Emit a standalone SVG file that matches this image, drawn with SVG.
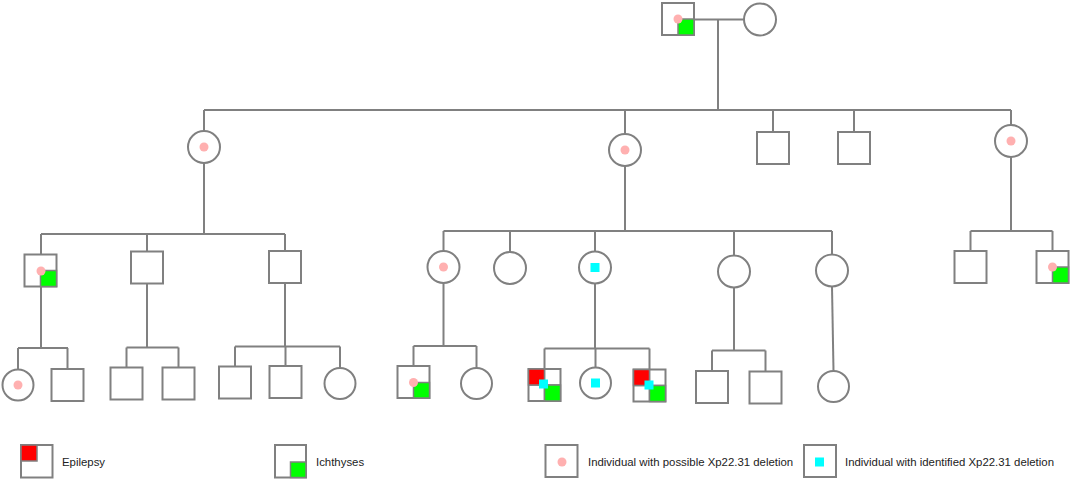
<svg xmlns="http://www.w3.org/2000/svg" width="1072" height="480" viewBox="0 0 1072 480">
<style>
.s{fill:#fff;stroke:#808080;stroke-width:2}
.l{fill:none;stroke:#808080;stroke-width:2}
.q{fill:none;stroke:#808080;stroke-width:1.5}
.g{fill:#00ff00;stroke:#808080;stroke-width:1.5}
.r{fill:#ff0000;stroke:#808080;stroke-width:1.5}
.p{fill:#ffb0b0}
.c{fill:#00ffff}
.t{font-family:"Liberation Sans",Arial,sans-serif;font-size:11.4px;fill:#222}
</style>
<rect width="1072" height="480" fill="#fff"/>
<g id="connectors" class="l">
<path d="M694,19.5H744M718,19.5V110M204,110H1011"/>
<path d="M204,110V131M625,110V134M773,110V132M854,110V132M1011,110V125"/>
<path d="M204,163V234M41,234H285M41,234V254.5M147,234V251.5M285,234V251"/>
<path d="M41,286.5V348M18,348H68M18,348V369.5M67.5,348V369"/>
<path d="M147,283.5V347.5M126.5,347.5H178.5M126.5,347.5V367.5M178.5,347.5V367.5"/>
<path d="M285,283V346.5M235,346.5H340M235,346.5V366.5M285.5,346.5V366M340,346.5V367.5"/>
<path d="M625,166V231M443.5,231H832M443.5,231V251M510,231V252M595,231V251.5M734,231V255.5M832,231V254.5"/>
<path d="M443.5,283V346M413.5,346H476.5M413.5,346V366M476.5,346V368"/>
<path d="M595,283.5V348.5M544.5,348.5H649.5M544.5,348.5V369M595.5,348.5V367.5M649.5,348.5V369.5"/>
<path d="M734,287.5V350.5M712,350.5H765.5M712,350.5V371M765.5,350.5V371.5"/>
<path d="M832,286.5L833.5,371"/>
<path d="M1011,157V231M970.5,231H1052.5M970.5,231V251M1052.5,231V251"/>
</g>
<g id="I1"><rect class="s" x="662" y="3" width="32" height="32"/><rect class="g" x="678" y="19" width="16" height="16"/><circle class="p" cx="678" cy="19" r="4.5"/></g>
<g id="I2"><circle class="s" cx="760" cy="19.5" r="16"/></g>
<g id="II1"><circle class="s" cx="204" cy="147" r="16"/><circle class="p" cx="204" cy="147" r="4.5"/></g>
<g id="II2"><circle class="s" cx="625" cy="150" r="16"/><circle class="p" cx="625" cy="150" r="4.5"/></g>
<g id="II3"><rect class="s" x="757" y="132" width="32" height="32"/></g>
<g id="II4"><rect class="s" x="838" y="132" width="32" height="32"/></g>
<g id="II5"><circle class="s" cx="1011" cy="141" r="16"/><circle class="p" cx="1011" cy="141" r="4.5"/></g>
<g id="III1"><rect class="s" x="24.5" y="254.5" width="32" height="32"/><rect class="g" x="40.5" y="270.5" width="16" height="16"/><circle class="p" cx="41" cy="271" r="4.5"/></g>
<g id="III2"><rect class="s" x="131" y="251.5" width="32" height="32"/></g>
<g id="III3"><rect class="s" x="269" y="251" width="32" height="32"/></g>
<g id="III4"><circle class="s" cx="443.5" cy="267" r="16"/><circle class="p" cx="443.5" cy="267" r="4.5"/></g>
<g id="III5"><circle class="s" cx="510" cy="268" r="16"/></g>
<g id="III6"><circle class="s" cx="595" cy="267.5" r="16"/><rect class="c" x="590.5" y="263" width="9" height="9"/></g>
<g id="III7"><circle class="s" cx="734" cy="271.5" r="16"/></g>
<g id="III8"><circle class="s" cx="832" cy="270.5" r="16"/></g>
<g id="III9"><rect class="s" x="954.5" y="251" width="32" height="32"/></g>
<g id="III10"><rect class="s" x="1036.5" y="251" width="32" height="32"/><rect class="g" x="1052.5" y="267" width="16" height="16"/><circle class="p" cx="1052.5" cy="267" r="4.5"/></g>
<g id="IV1"><circle class="s" cx="18" cy="385" r="15.5"/><circle class="p" cx="18" cy="385" r="4.5"/></g>
<g id="IV2"><rect class="s" x="51.5" y="369" width="32" height="32"/></g>
<g id="IV3"><rect class="s" x="110.5" y="367.5" width="32" height="32"/></g>
<g id="IV4"><rect class="s" x="162.5" y="367.5" width="32" height="32"/></g>
<g id="IV5"><rect class="s" x="219" y="366.5" width="32" height="32"/></g>
<g id="IV6"><rect class="s" x="269.5" y="366" width="32" height="32"/></g>
<g id="IV7"><circle class="s" cx="340" cy="383.5" r="15.5"/></g>
<g id="IV8"><rect class="s" x="397.5" y="366" width="32" height="32"/><rect class="g" x="413.5" y="382.5" width="16" height="15.5"/><circle class="p" cx="413.5" cy="382.5" r="4.5"/></g>
<g id="IV9"><circle class="s" cx="476.5" cy="383.5" r="15.5"/></g>
<g id="IV10"><rect class="s" x="528.5" y="369" width="32" height="32"/><path class="q" d="M544.5,369V401M528.5,385H560.5"/><rect class="r" x="528.5" y="369" width="16" height="16"/><rect class="g" x="544.5" y="385" width="16" height="16"/><rect class="c" x="539" y="379.5" width="9" height="9"/></g>
<g id="IV11"><circle class="s" cx="595.5" cy="383" r="15.5"/><rect class="c" x="591" y="378.5" width="9" height="9"/></g>
<g id="IV12"><rect class="s" x="633.5" y="369.5" width="32" height="32"/><path class="q" d="M649.5,369.5V401.5M633.5,385.5H665.5"/><rect class="r" x="633.5" y="369.5" width="16" height="16"/><rect class="g" x="649.5" y="385.5" width="16" height="16"/><rect class="c" x="644.5" y="380.5" width="9" height="9"/></g>
<g id="IV13"><rect class="s" x="696" y="371" width="32" height="32"/></g>
<g id="IV14"><rect class="s" x="749.5" y="371.5" width="32" height="32"/></g>
<g id="IV15"><circle class="s" cx="833.5" cy="386.5" r="15.5"/></g>
<g id="legend">
<g id="leg-epilepsy"><rect class="s" x="21" y="445" width="31.5" height="32.5"/><rect class="r" x="21" y="445" width="16" height="16"/><text class="t" x="62" y="466">Epilepsy</text></g>
<g id="leg-ichthyses"><rect class="s" x="275" y="445" width="31" height="32.5"/><rect class="g" x="290.5" y="462" width="15.5" height="15.5"/><text class="t" x="316" y="466">Ichthyses</text></g>
<g id="leg-possible"><rect class="s" x="545.5" y="445" width="32" height="32"/><circle class="p" cx="562" cy="462" r="4.5"/><text class="t" x="588" y="466">Individual with possible Xp22.31 deletion</text></g>
<g id="leg-identified"><rect class="s" x="804" y="445" width="32" height="32"/><rect class="c" x="815" y="457.5" width="9" height="9"/><text class="t" x="845" y="466">Individual with identified Xp22.31 deletion</text></g>
</g>
</svg>
